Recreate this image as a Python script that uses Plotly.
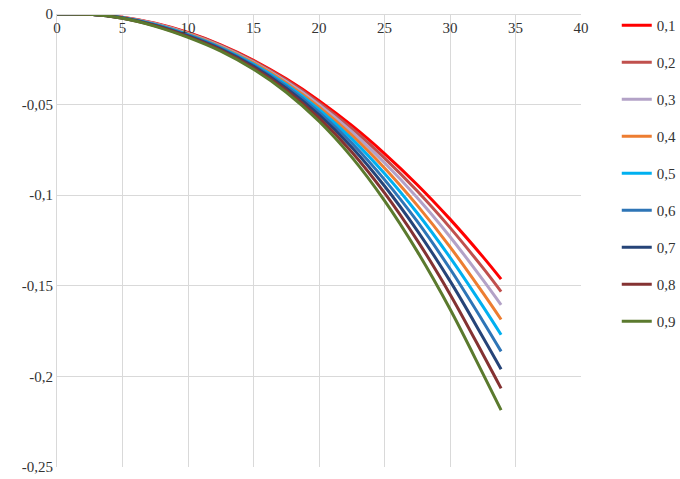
import plotly.graph_objects as go

x = [0, 2.5, 5, 7.5, 10, 12.5, 15, 17.5, 20, 22.5, 25, 27.5, 30, 32.5, 33.9]

names = ["0,1", "0,2", "0,3", "0,4", "0,5", "0,6", "0,7", "0,8", "0,9"]

s01 = [0, -0.0002, -0.0018, -0.0051, -0.0102, -0.0170, -0.0255, -0.0358, -0.0478, -0.0615, -0.0770, -0.0942, -0.1132, -0.1339, -0.1463]
s02 = [0, -0.0002, -0.0019, -0.0053, -0.0105, -0.0173, -0.0260, -0.0365, -0.0489, -0.0632, -0.0795, -0.0977, -0.1179, -0.1400, -0.1532]
s03 = [0, -0.0002, -0.0019, -0.0054, -0.0107, -0.0177, -0.0265, -0.0373, -0.0500, -0.0649, -0.0821, -0.1014, -0.1229, -0.1466, -0.1605]
s04 = [0, -0.0002, -0.0020, -0.0056, -0.0110, -0.0181, -0.0270, -0.0381, -0.0513, -0.0669, -0.0850, -0.1056, -0.1285, -0.1538, -0.1686]
s05 = [0, -0.0002, -0.0021, -0.0058, -0.0114, -0.0185, -0.0276, -0.0389, -0.0526, -0.0689, -0.0880, -0.1098, -0.1343, -0.1612, -0.1770]
s06 = [0, -0.0002, -0.0021, -0.0060, -0.0117, -0.0189, -0.0283, -0.0399, -0.0541, -0.0712, -0.0914, -0.1145, -0.1406, -0.1694, -0.1862]
s07 = [0, -0.0002, -0.0022, -0.0063, -0.0121, -0.0194, -0.0289, -0.0409, -0.0556, -0.0735, -0.0949, -0.1195, -0.1473, -0.1782, -0.1960]
s08 = [0, -0.0002, -0.0023, -0.0065, -0.0125, -0.0199, -0.0297, -0.0420, -0.0573, -0.0761, -0.0987, -0.1249, -0.1546, -0.1876, -0.2066]
s09 = [0, -0.0002, -0.0024, -0.0068, -0.0129, -0.0205, -0.0305, -0.0432, -0.0592, -0.0790, -0.1030, -0.1310, -0.1628, -0.1983, -0.2186]

series = [s01, s02, s03, s04, s05, s06, s07, s08, s09]
colors = ["#FF0000", "#C0504D", "#B3A2C7", "#ED7D31", "#00B0F0",
          "#2E75B6", "#264478", "#843232", "#5B7A2E"]

x_ticks = [0, 5, 10, 15, 20, 25, 30, 35, 40]
x_tick_labels = ["0", "5", "10", "15", "20", "25", "30", "35", "40"]
y_ticks = [0, -0.05, -0.1, -0.15, -0.2, -0.25]
y_tick_labels = ["0", "-0,05", "-0,1", "-0,15", "-0,2", "-0,25"]

FONT = "Times New Roman, Liberation Serif, serif"

fig = go.Figure()
for i, (nm, ys) in enumerate(zip(names, series)):
    fig.add_trace(go.Scatter(
        x=x, y=ys, name=nm, mode="lines",
        line=dict(color=colors[i], width=3, shape="spline"),
        legendgroup=nm,
    ))

grid = "#D9D9D9"
fig.update_layout(
    width=680, height=479,
    margin=dict(l=57, r=99, t=14, b=12, autoexpand=False),
    paper_bgcolor="white", plot_bgcolor="white",
    font=dict(family=FONT, size=15, color="#333333"),
    showlegend=True,
    legend=dict(x=0.907, xanchor="left", xref="container",
                y=0.981, yanchor="top", yref="container",
                tracegroupgap=14.5, itemwidth=30, maxheight=479,
                font=dict(family=FONT, size=15, color="#333333"),
                bgcolor="rgba(0,0,0,0)"),
    xaxis=dict(range=[0, 40], tickvals=x_ticks, ticktext=x_tick_labels,
               showgrid=True, gridcolor=grid, gridwidth=1,
               showline=True, linecolor=grid, linewidth=1,
               zeroline=False, anchor="free", position=1, side="bottom",
               ticks="", ticklen=0, automargin=False),
    yaxis=dict(range=[-0.25, 0], tickvals=y_ticks, ticktext=y_tick_labels,
               showgrid=True, gridcolor=grid, gridwidth=1,
               showline=True, linecolor=grid, linewidth=1,
               zeroline=False, ticks="", domain=[0, 1], automargin=False),
)

fig.write_html("out.html")
